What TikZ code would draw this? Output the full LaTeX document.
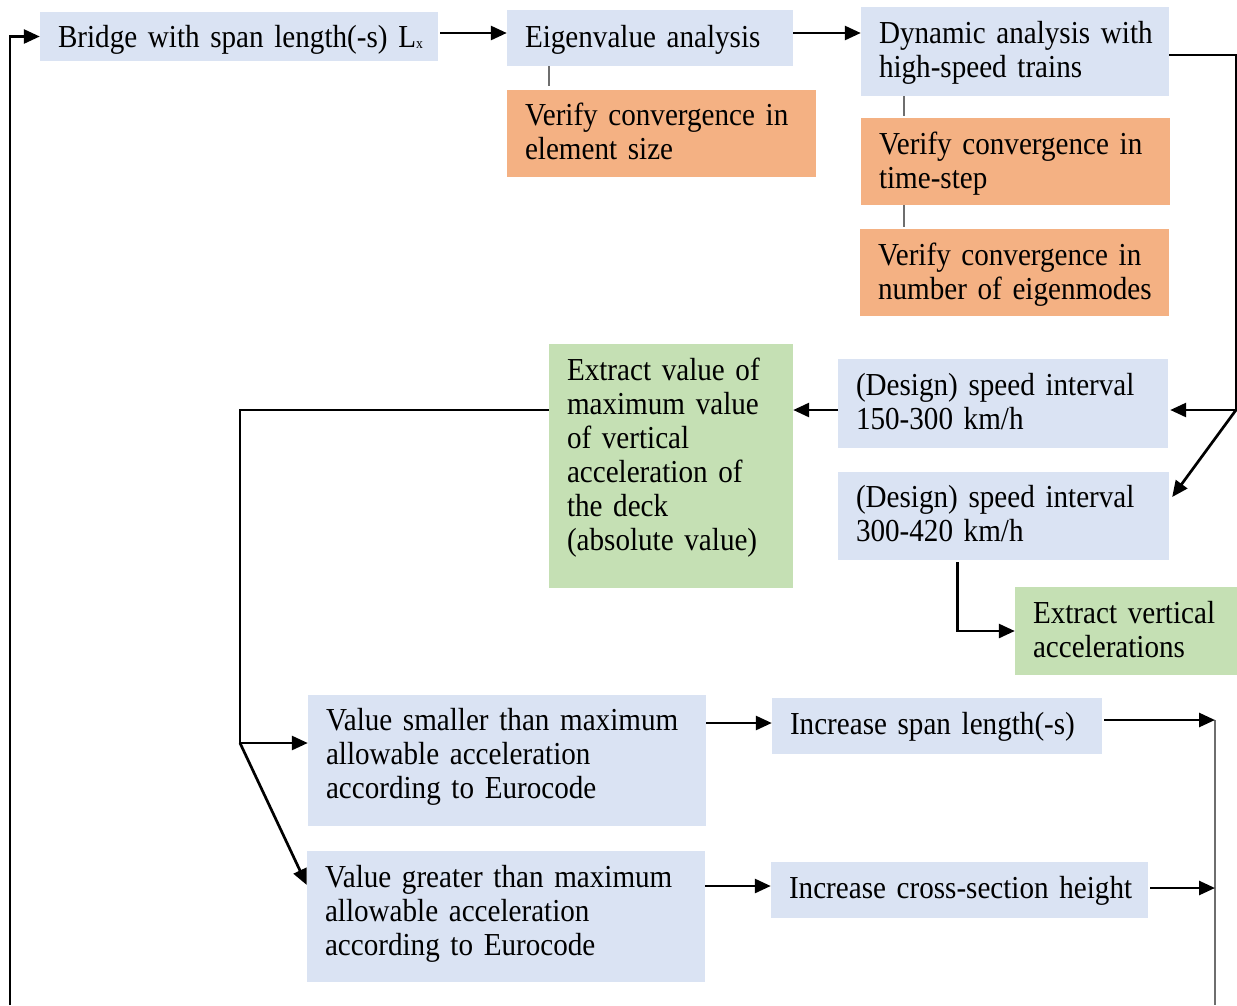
\documentclass[tikz,border=0pt]{standalone}
\usepackage{fontspec}
\setmainfont{Liberation Serif}[FakeStretch=0.91,WordSpace=0.9]
\usetikzlibrary{arrows.meta,calc}
\definecolor{bblue}{HTML}{DAE3F3}
\definecolor{borange}{HTML}{F4B183}
\definecolor{bgreen}{HTML}{C5E0B4}
\definecolor{thingray}{HTML}{6E6E6E}
\newcommand\mybox[7]{%
  \pgfmathsetmacro\bw{#4-#2}%
  \pgfmathsetmacro\bh{#5-#3}%
  \pgfmathsetmacro\tw{#4-#2-36}%
  \pgfmathsetmacro\cx{(#2+#4)/2}%
  \pgfmathsetmacro\cy{(#3+#5)/2}%
  \node[box,fill=#6,minimum width=\bw pt,minimum height=\bh pt,text width=\tw pt] (#1) at (\cx,\cy) {\begin{tabular}{@{}l@{}}#7\end{tabular}};}
\begin{document}
\begin{tikzpicture}[x=1pt,y=-1pt,
  box/.style={draw=none,inner sep=0pt,align=left,font=\fontsize{32}{34}\selectfont},
  arr/.style={line width=2.7pt,draw=black,-{Triangle[length=16pt,width=14pt]}},
  thinline/.style={line width=1.4pt,draw=thingray}]
\useasboundingbox (0,0) rectangle (1237,1005);
\fill[white] (0,0) rectangle (1237,1005);

\mybox{bridge}{40}{12}{438}{61}{bblue}{Bridge with span length(-s) L\raisebox{-1pt}{\fontsize{15}{15}\selectfont x}\\[-8pt]}
\mybox{eigen}{507}{10}{793}{66}{bblue}{Eigenvalue analysis\\[-5pt]}
\mybox{ver1}{507}{90}{816}{177}{borange}{Verify convergence in\\element size\\[-4pt]}
\mybox{dyn}{861}{7}{1169}{96}{bblue}{Dynamic analysis with\\high-speed trains\\[-4pt]}
\mybox{ver2}{861}{118}{1170}{205}{borange}{Verify convergence in\\time-step\\[-6pt]}
\mybox{ver3}{860}{229}{1169}{316}{borange}{Verify convergence in\\number of eigenmodes\\[-6pt]}
\mybox{ext}{549}{344}{793}{588}{bgreen}{Extract value of\\maximum value\\of vertical\\acceleration of\\the deck\\(absolute value)\\[14pt]}
\mybox{sp1}{838}{359}{1168}{448}{bblue}{(Design) speed interval\\150-300 km/h\\[-4pt]}
\mybox{sp2}{838}{472}{1169}{560}{bblue}{(Design) speed interval\\300-420 km/h\\[-4pt]}
\mybox{exv}{1015}{587}{1237}{675}{bgreen}{Extract vertical\\accelerations\\[-6pt]}
\mybox{vs}{308}{695}{706}{826}{bblue}{Value smaller than maximum\\allowable acceleration\\according to Eurocode\\[6pt]}
\mybox{is}{772}{698}{1102}{754}{bblue}{Increase span length(-s)\\[-4pt]}
\mybox{vg}{307}{851}{705}{982}{bblue}{Value greater than maximum\\allowable acceleration\\according to Eurocode\\[4pt]}
\mybox{ic}{771}{862}{1148}{918}{bblue}{Increase cross-section height\\[-4pt]}

% left feedback loop
\coordinate (loopstart) at (10,1005);
\draw[arr] (loopstart) |- (bridge.west);

% top row
\draw[arr] ($(bridge.east)+(2,-3.5)$) coordinate (a1) -- (a1 -| eigen.west);
\draw[arr] ($(eigen.east)+(0,-5)$) coordinate (a2) -- (a2 -| dyn.west);

% thin links
\draw[thinline] ($(eigen.south west)+(42,0)$) -- ($(ver1.north west)+(42,-4)$);
\draw[thinline] ($(dyn.south west)+(43,0)$) -- ($(ver2.north west)+(43,-2)$);
\draw[thinline] ($(ver2.south west)+(43,0)$) -- ($(ver3.north west)+(44,-2)$);

% right branch
\coordinate (rj) at (1236,410);
\draw[arr] ($(dyn.east)+(0,3.5)$) -| (rj) -- ($(rj -| sp1.east)+(2,0)$);
\draw[arr] (rj) -- ($(sp2.east)+(3,-19)$);

% speed 1 -> extract
\draw[arr] (rj -| sp1.west) -- (rj -| ext.east);

% extract -> decisions
\coordinate (lj) at (240,743);
\draw[arr] (rj -| ext.west) -| (lj) -- (lj -| vs.west);
\draw[arr] (lj) -- ($(vg.west)+(0,-31.5)$);

% speed 2 -> extract vertical
\draw[arr] ($(sp2.south west)+(120,2)$) |- (exv.west);

% decisions -> actions
\draw[arr] ($(vs.east)+(0,-37.5)$) coordinate (a3) -- (a3 -| is.west);
\draw[arr] ($(vg.east)+(0,-30.5)$) coordinate (a4) -- (a4 -| ic.west);

% actions -> right line
\coordinate (rv) at (1215,720);
\coordinate (rv2) at (1215,888);
\coordinate (rb) at (1215,1005);
\draw[thinline] (rv) -- (rb);
\draw[arr] ($(is.east)+(2,-6)$) -- (rv);
\draw[arr] ($(ic.east)+(2,-2)$) -- (rv2);
\end{tikzpicture}
\end{document}
